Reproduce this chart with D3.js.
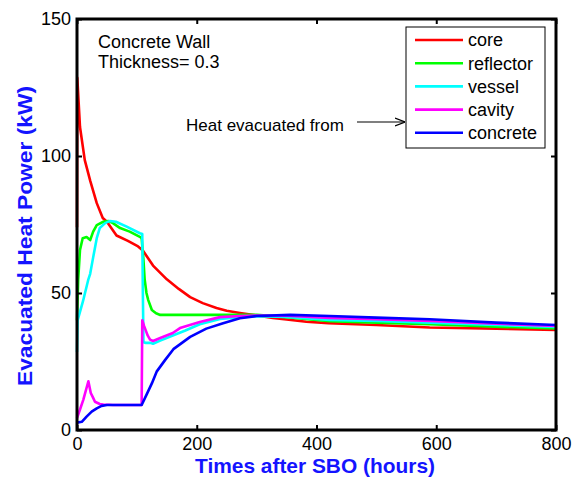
<!DOCTYPE html>
<html><head><meta charset="utf-8">
<script src="https://cdn.jsdelivr.net/npm/d3@7"></script>
<style>body{margin:0;background:#fff}svg{display:block;font-family:"Liberation Sans",Arial,sans-serif}</style>
</head><body>
<script>
const seriesNames = ["core","reflector","vessel","cavity","concrete"];
const seriesColors = ["#ff0000","#00ff00","#00ffff","#ff00ff","#0000ff"];
const xTicks = [0,200,400,600,800];
const yTicks = [0,50,100,150];

const coreT = [0,0.5,5,13,22,33,43,50,66,85,102,110,127,150,170,189,210,233,250,272,300,327,350,383,420,500,589,700,800];
const coreV = [74,128.5,110.6,98.5,91,82.8,77.4,76,71,69,67,65.5,60,55,51.5,48.5,46.3,44.5,43.5,42.7,41.8,40.9,40.3,39.5,39,38.3,37.4,37,36.5];

const reflectorT = [0,2,5,9.5,16,22,27,33,44,52,60,72,88,105,108,111,113,116,119,125,132,139,160,200,250,300,350,422,500,589,700,800];
const reflectorV = [40,55,65.7,70,70.4,69.3,72.4,74.8,76,76.3,75.5,73.7,72.4,70.5,70,62,55,50,47.4,43.8,42.6,42,42,42,42,42,41.2,39.7,39.2,38.6,37.7,37.1];

const vesselT = [0,1,10,19,22,27,33,38,47,55,65,83,105,109,110,111,115,122,127,139,160,180,205,239,272,300,350,422,500,589,700,800];
const vesselV = [28.5,40,47,55,57,63,70,73.7,75.5,76.3,76,74.2,71.8,71.5,50,32,31.8,31.8,31.5,32.6,34.5,36.2,38.6,40.5,41.2,41.5,41.3,40.2,39.8,39.2,38.3,37.6];

const cavityT = [0,5,10.5,19,23,27,30,38,44,53,60,108,109,112,118,122,127,139,160,172,205,239,272,300,350,422,500,589,700,800];
const cavityV = [4.4,7.5,11,17.8,13.5,11.7,10.3,9.5,9.3,9.2,9.1,9.1,40,38,34.5,33,32.5,33.6,35.4,37.2,39.4,41.2,41.6,41.8,41.7,40.9,40.4,39.8,38.8,38];

const concreteT = [0,8,16,24.5,33,41,50,108,116,125,133,147,161,189,216,244,272,300,356,422,500,589,700,800];
const concreteV = [2.7,3,4.9,6.7,7.9,8.8,9.1,9.1,12.8,17,21.3,25.5,29.5,34,37,39,40.8,41.6,42,41.6,41,40.4,39.2,38.3];

const seriesT = [coreT, reflectorT, vesselT, cavityT, concreteT];
const seriesV = [coreV, reflectorV, vesselV, cavityV, concreteV];

const W = 577, H = 479;
const L = 77, R = 556, T = 19, B = 430;
const svg = d3.select("body").append("svg").attr("width", W).attr("height", H);
const x = d3.scaleLinear().domain([0,800]).range([L,R]);
const y = d3.scaleLinear().domain([0,150]).range([B,T]);

// lines
const line = d3.line().x(d => x(d[0])).y(d => y(d[1]));
seriesNames.forEach((n,i) => {
  const pts = seriesT[i].map((t,j) => [t, seriesV[i][j]]);
  svg.append("path").attr("d", line(pts)).attr("fill","none")
    .attr("stroke", seriesColors[i]).attr("stroke-width", 2.6).attr("stroke-linejoin","round");
});

// axes
const fs = 18;
const gx = svg.append("g").attr("transform", `translate(0,${B})`)
  .call(d3.axisBottom(x).tickValues(xTicks).tickSizeInner(-5).tickSizeOuter(0).tickPadding(7));
const gy = svg.append("g").attr("transform", `translate(${L},0)`)
  .call(d3.axisLeft(y).tickValues(yTicks).tickSizeInner(-5).tickSizeOuter(0).tickPadding(6));
const gx2 = svg.append("g").attr("transform", `translate(0,${T})`)
  .call(d3.axisTop(x).tickValues(xTicks).tickSizeInner(-5).tickSizeOuter(0).tickFormat(""));
const gy2 = svg.append("g").attr("transform", `translate(${R},0)`)
  .call(d3.axisRight(y).tickValues(yTicks).tickSizeInner(-5).tickSizeOuter(0).tickFormat(""));
[gx,gy,gx2,gy2].forEach(g => {
  g.select(".domain").remove();
  g.selectAll("line").attr("stroke","#000").attr("stroke-width",2);
  g.selectAll("text").attr("font-size",fs).attr("fill","#000").attr("font-family","Liberation Sans, Arial, sans-serif");
});
svg.append("rect").attr("x",L).attr("y",T).attr("width",R-L).attr("height",B-T)
  .attr("fill","none").attr("stroke","#000").attr("stroke-width",3);

// axis titles
svg.append("text").attr("x",315).attr("y",473).attr("text-anchor","middle")
  .attr("font-size",21).attr("font-weight","bold").attr("fill","#1414ff")
  .attr("textLength",240).attr("lengthAdjust","spacingAndGlyphs").text("Times after SBO (hours)");
svg.append("text").attr("transform",`translate(32,236) rotate(-90)`).attr("text-anchor","middle")
  .attr("font-size",21).attr("font-weight","bold").attr("fill","#1414ff")
  .attr("textLength",300).attr("lengthAdjust","spacingAndGlyphs").text("Evacuated Heat Power (kW)");

// annotations
svg.append("text").attr("x",98).attr("y",48).attr("font-size",fs).text("Concrete Wall");
svg.append("text").attr("x",98).attr("y",68).attr("font-size",fs).text("Thickness= 0.3");
svg.append("text").attr("x",186).attr("y",131).attr("font-size",fs-1).text("Heat evacuated from");
svg.append("defs").append("marker").attr("id","arr").attr("viewBox","0 0 10 10").attr("refX",10).attr("refY",5)
  .attr("markerWidth",10).attr("markerHeight",10).attr("markerUnits","userSpaceOnUse").attr("orient","auto")
  .append("path").attr("d","M0,1 L10,5 L0,9").attr("fill","none").attr("stroke","#000").attr("stroke-width",1.2);
svg.append("line").attr("x1",357).attr("y1",122).attr("x2",405).attr("y2",122)
  .attr("stroke","#000").attr("stroke-width",1.2).attr("marker-end","url(#arr)");

// legend
const lg = svg.append("g");
lg.append("rect").attr("x",406).attr("y",27).attr("width",139).attr("height",121)
  .attr("fill","#fff").attr("stroke","#000").attr("stroke-width",1);
seriesNames.forEach((n,i) => {
  const yy = 40 + i*23.2;
  lg.append("line").attr("x1",415).attr("x2",463).attr("y1",yy).attr("y2",yy)
    .attr("stroke",seriesColors[i]).attr("stroke-width",2.6);
  lg.append("text").attr("x",468).attr("y",yy).attr("dy","0.35em").attr("font-size",fs).text(n);
});
</script>
</body></html>
